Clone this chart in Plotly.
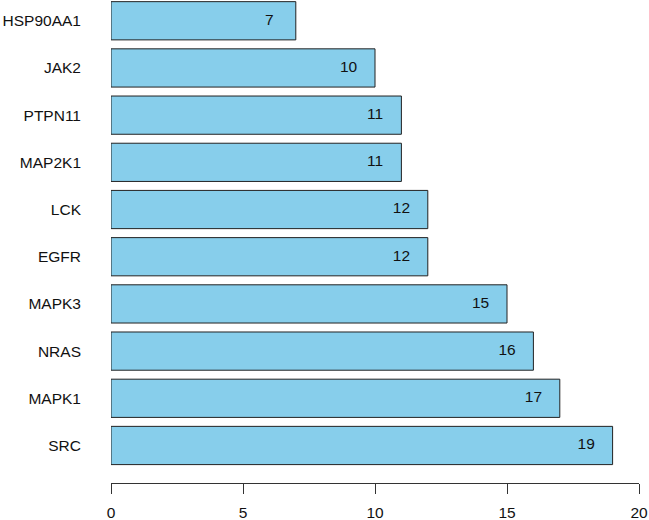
import plotly.graph_objects as go

# genes listed bottom-to-top, as drawn by the horizontal barplot
genes = ['SRC', 'MAPK1', 'NRAS', 'MAPK3', 'EGFR', 'LCK', 'MAP2K1', 'PTPN11', 'JAK2', 'HSP90AA1']
counts = [19, 17, 16, 15, 12, 12, 11, 11, 10, 7]
x_ticks = [0, 5, 10, 15, 20]

FONT = 'Liberation Sans, Arial, sans-serif'

fig = go.Figure()

fig.add_trace(go.Bar(
    x=counts,
    y=genes,
    orientation='h',
    marker=dict(color='#87CEEB', line=dict(color='#222222', width=1)),
    hoverinfo='x+y',
))

# count labels sit one unit in from the end of each bar
fig.add_trace(go.Scatter(
    x=[c - 1 for c in counts],
    y=genes,
    mode='text',
    text=[str(c) for c in counts],
    textfont=dict(family=FONT, size=15.5, color='#111111'),
    hoverinfo='skip',
))

fig.update_layout(
    width=649,
    height=520,
    margin=dict(l=111, r=10, t=0, b=37),
    paper_bgcolor='white',
    plot_bgcolor='white',
    showlegend=False,
    bargap=0.19,
    font=dict(family=FONT, size=15.5, color='#111111'),
)

fig.update_xaxes(
    range=[0, 20],
    tickvals=x_ticks,
    showgrid=False,
    zeroline=False,
    showline=True,
    linecolor='#333333',
    linewidth=1,
    ticks='outside',
    ticklen=10,
    tickcolor='#333333',
    ticklabelstandoff=5,
    tickfont=dict(family=FONT, size=15.5, color='#111111'),
)

fig.update_yaxes(
    type='category',
    categoryorder='array',
    categoryarray=genes,
    range=[-0.795, 9.44],
    showgrid=False,
    zeroline=False,
    showline=False,
    ticks='',
    ticklabelstandoff=29,
    tickfont=dict(family=FONT, size=15.5, color='#111111'),
)

# drop the default page margin so the figure fills the window exactly
fig.write_html(
    'out.html',
    config={'displayModeBar': False},
    post_script="document.body.style.margin='0px';",
)
